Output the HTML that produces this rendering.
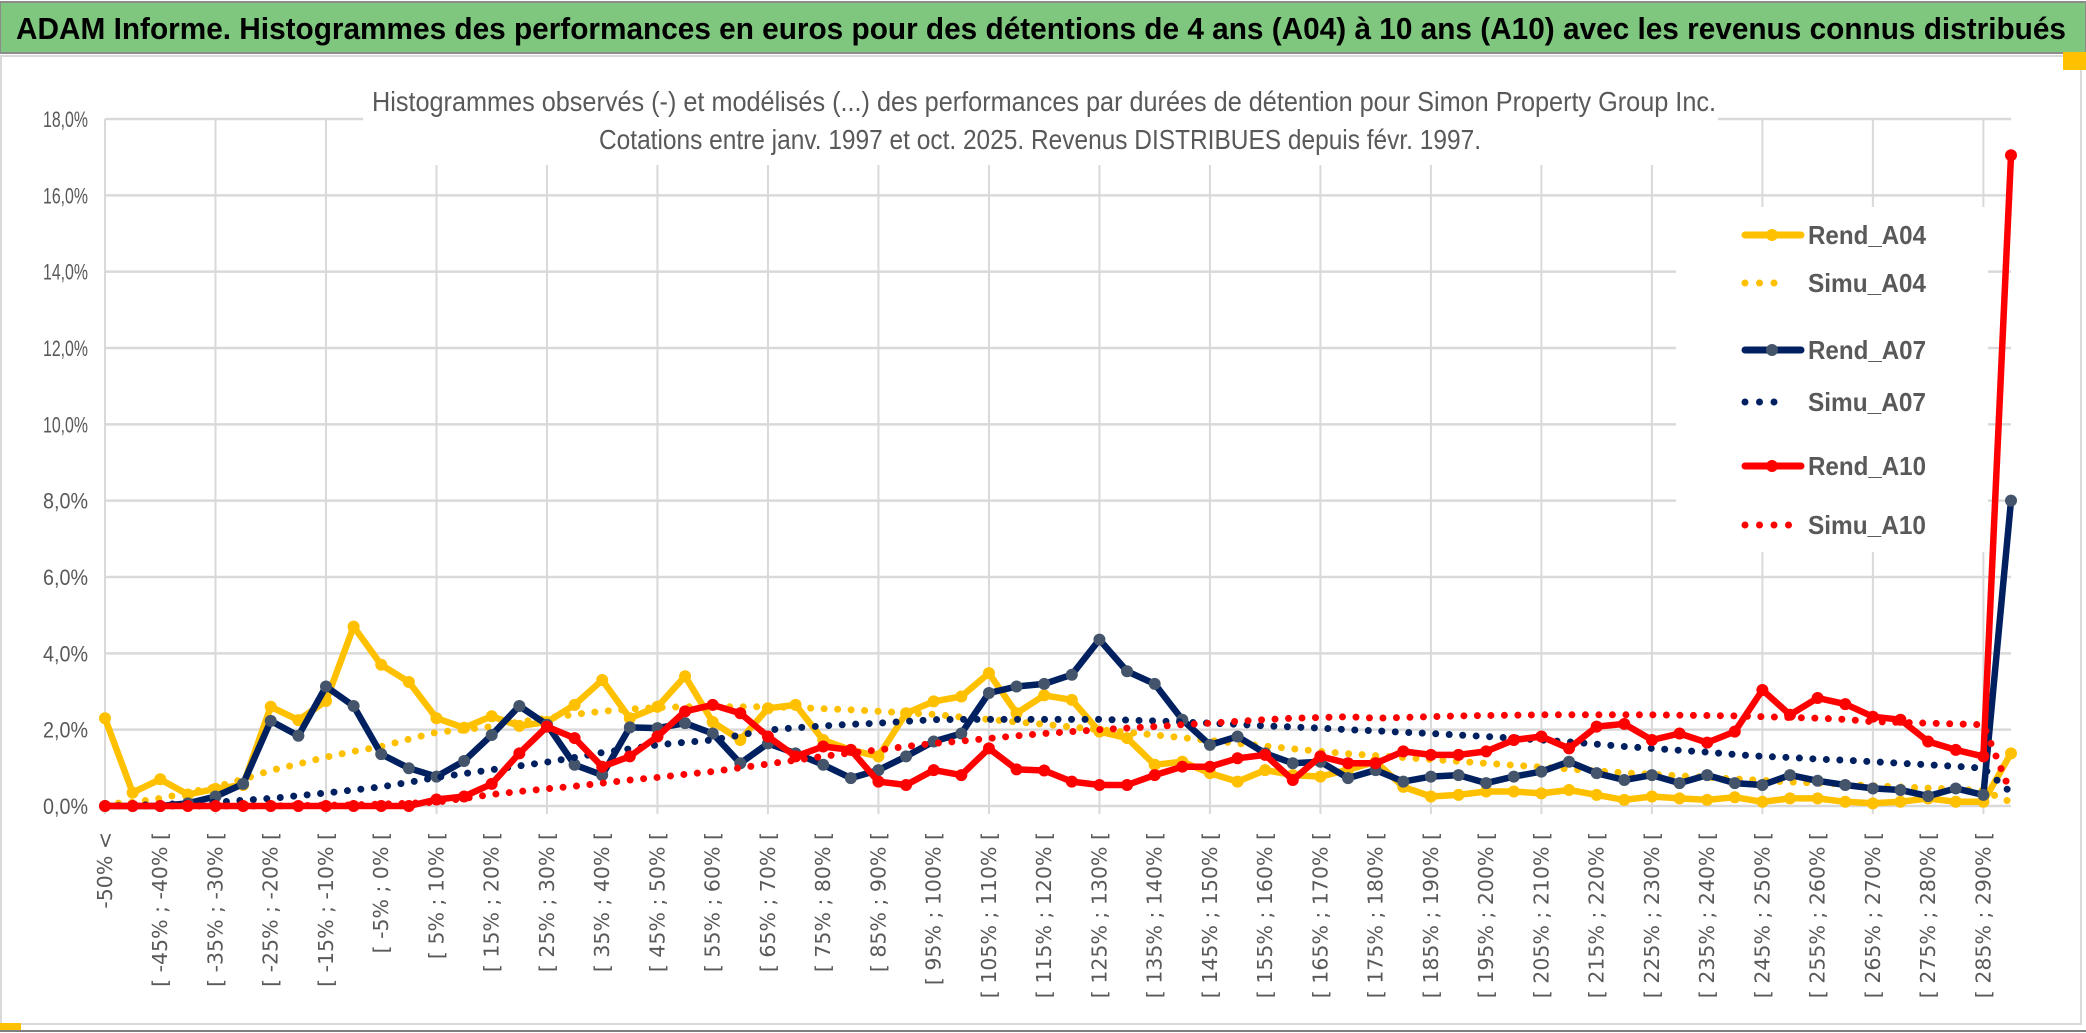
<!DOCTYPE html>
<html><head><meta charset="utf-8"><style>
html,body{margin:0;padding:0;background:#fff;}
svg{display:block;}
text{font-family:"Liberation Sans",sans-serif;}
</style></head><body>
<svg id="chart" width="2086" height="1033" viewBox="0 0 2086 1033" xmlns="http://www.w3.org/2000/svg">
  <rect x="0" y="0" width="2086" height="1033" fill="#fff"/>
  <rect x="0" y="2" width="2086" height="51" fill="#7fc77f" stroke="#8c8c8c" stroke-width="2"/>
  <text x="16" y="39" font-size="31" font-weight="bold" fill="#000" textLength="2050" lengthAdjust="spacingAndGlyphs">ADAM Informe. Histogrammes des performances en euros pour des détentions de 4 ans (A04) à 10 ans (A10) avec les revenus connus distribués</text>
  <rect x="1" y="56" width="2080" height="968" fill="none" stroke="#d9d9d9" stroke-width="2"/>
  <rect x="2063" y="52" width="23" height="18" fill="#ffc000"/>
  <rect x="0" y="1023" width="21" height="8" fill="#ffc000"/>
  <line x1="0" y1="1031" x2="2086" y2="1031" stroke="#7f7f7f" stroke-width="2"/>
  <g id="grid"></g>
  <g id="ylabels"></g>
  <g id="xlabels"></g>
  <rect x="363" y="70" width="1355" height="95" fill="#fff"/>
  <text x="1044" y="111" font-size="28" fill="#595959" text-anchor="middle" textLength="1344" lengthAdjust="spacingAndGlyphs">Histogrammes observés (-) et modélisés (...) des performances par durées de détention pour Simon Property Group Inc.</text>
  <text x="1040" y="149" font-size="28" fill="#595959" text-anchor="middle" textLength="882" lengthAdjust="spacingAndGlyphs">Cotations entre janv. 1997 et oct. 2025. Revenus DISTRIBUES depuis févr. 1997.</text>
  <g id="series"></g>
  <g id="legend"></g>
</svg>
<script>
const categoriesCount = 70;
const yTicks = [0,2,4,6,8,10,12,14,16,18];
const yTickLabels = ["0,0%","2,0%","4,0%","6,0%","8,0%","10,0%","12,0%","14,0%","16,0%","18,0%"];
const rendA04 = [2.3,0.35,0.7,0.3,0.45,0.55,2.6,2.25,2.75,4.7,3.7,3.25,2.3,2.05,2.35,2.1,2.2,2.65,3.3,2.3,2.6,3.4,2.2,1.73,2.56,2.65,1.73,1.47,1.3,2.43,2.74,2.87,3.48,2.43,2.9,2.78,1.95,1.78,1.08,1.16,0.86,0.64,0.94,0.81,0.77,0.95,1.16,0.5,0.25,0.29,0.38,0.38,0.33,0.42,0.29,0.16,0.25,0.2,0.16,0.23,0.11,0.2,0.2,0.11,0.07,0.11,0.2,0.11,0.11,1.38];
const simuA04 = [0.05,0.1,0.2,0.35,0.5,0.7,0.93,1.1,1.28,1.43,1.56,1.75,1.93,2.0,2.08,2.2,2.3,2.4,2.48,2.54,2.58,2.6,2.6,2.6,2.6,2.58,2.55,2.52,2.48,2.44,2.4,2.33,2.27,2.2,2.14,2.07,2.0,1.93,1.86,1.79,1.72,1.64,1.57,1.5,1.43,1.37,1.32,1.27,1.22,1.17,1.12,1.07,1.02,0.97,0.92,0.87,0.83,0.79,0.75,0.71,0.67,0.63,0.6,0.57,0.53,0.5,0.47,0.44,0.4,0.1];
const rendA07 = [0,0,0,0.07,0.25,0.58,2.23,1.84,3.13,2.62,1.36,0.99,0.77,1.18,1.86,2.62,2.13,1.08,0.81,2.06,2.04,2.17,1.9,1.12,1.64,1.38,1.08,0.73,0.94,1.3,1.69,1.9,2.96,3.13,3.2,3.44,4.36,3.53,3.2,2.26,1.6,1.82,1.38,1.12,1.16,0.73,0.94,0.64,0.77,0.81,0.6,0.77,0.9,1.16,0.86,0.68,0.81,0.6,0.81,0.6,0.55,0.81,0.66,0.55,0.46,0.42,0.26,0.46,0.29,8.0];
const simuA07 = [0,0.02,0.04,0.07,0.1,0.15,0.2,0.27,0.34,0.42,0.5,0.62,0.75,0.85,0.95,1.05,1.15,1.27,1.4,1.5,1.6,1.67,1.73,1.86,1.99,2.05,2.1,2.14,2.17,2.22,2.26,2.27,2.27,2.27,2.27,2.27,2.27,2.25,2.23,2.2,2.17,2.14,2.1,2.07,2.04,2.0,1.97,1.93,1.9,1.86,1.82,1.78,1.73,1.68,1.62,1.56,1.51,1.46,1.41,1.35,1.3,1.27,1.23,1.2,1.16,1.12,1.08,1.04,0.99,0.35];
const rendA10 = [0,0,0,0,0,0,0,0,0,0,0,0,0.17,0.25,0.58,1.38,2.08,1.78,1.03,1.3,1.82,2.48,2.65,2.43,1.82,1.3,1.56,1.47,0.64,0.55,0.94,0.81,1.51,0.96,0.93,0.64,0.55,0.55,0.81,1.03,1.03,1.25,1.34,0.68,1.3,1.12,1.12,1.43,1.34,1.34,1.43,1.73,1.82,1.51,2.08,2.15,1.73,1.9,1.66,1.95,3.04,2.39,2.83,2.67,2.34,2.26,1.69,1.47,1.3,17.05];
const simuA10 = [0,0,0,0,0,0,0,0.01,0.02,0.03,0.05,0.07,0.1,0.2,0.3,0.38,0.45,0.52,0.6,0.68,0.75,0.83,0.9,1.0,1.1,1.2,1.3,1.39,1.47,1.56,1.64,1.7,1.77,1.84,1.9,1.95,2.0,2.04,2.08,2.13,2.17,2.22,2.26,2.3,2.32,2.34,2.3,2.32,2.34,2.36,2.37,2.38,2.39,2.39,2.39,2.39,2.39,2.38,2.37,2.36,2.34,2.32,2.3,2.27,2.21,2.19,2.17,2.15,2.13,0.33];

const X0 = 105, X1 = 2011, Y0 = 806, YTOP = 119, YMAX = 18;
const xs = k => X0 + (X1 - X0) * k / (categoriesCount - 1);
const ys = v => Y0 - (Y0 - YTOP) * v / YMAX;
const NS = "http://www.w3.org/2000/svg";
function mk(tag, attrs, parent){const e=document.createElementNS(NS,tag);for(const a in attrs)e.setAttribute(a,attrs[a]);parent.appendChild(e);return e;}
function catLabel(k){ if(k===0) return "-50% <"; const a=-50+5*(k-1); return "[ "+a+"% ; "+(a+5)+"% ["; }

const grid = document.getElementById('grid');
yTicks.forEach((t,i)=>{
  const l = mk('line',{x1:X0,x2:X1,y1:ys(t),y2:ys(t),stroke:'#d9d9d9','stroke-width':2.5},grid);
  
  
  const tx = mk('text',{x:88,y:ys(t)+8,'font-size':22,fill:'#595959','text-anchor':'end',textLength:yTickLabels[i].length>5?54:45,lengthAdjust:'spacingAndGlyphs'},document.getElementById('ylabels'));
  tx.textContent = yTickLabels[i];
  
  
});
for(let k=0;k<categoriesCount;k+=4){
  const l = mk('line',{x1:xs(k),x2:xs(k),y1:YTOP,y2:814,stroke:'#d9d9d9','stroke-width':2},grid);
  
  
}
const xl = document.getElementById('xlabels');
for(let k=0;k<categoriesCount;k+=2){
  const x = xs(k), y = 832;
  const t = mk('text',{x:x,y:y,'font-size':20.5,fill:'#595959','text-anchor':'end','dominant-baseline':'central',transform:`rotate(-90 ${x} ${y})`,style:'font-family:"DejaVu Sans",sans-serif'},xl);
  t.textContent = catLabel(k);
  
  
}

const seriesG = document.getElementById('series');
const seriesList = [
  {name:'rend-a04',data:rendA04,color:'#ffc000',marker:'#ffc000',dotted:false},
  {name:'simu-a04',data:simuA04,color:'#ffc000',dotted:true},
  {name:'rend-a07',data:rendA07,color:'#002060',marker:'#44546a',dotted:false},
  {name:'simu-a07',data:simuA07,color:'#002060',dotted:true},
  {name:'rend-a10',data:rendA10,color:'#ff0000',marker:'#ff0000',dotted:false},
  {name:'simu-a10',data:simuA10,color:'#ff0000',dotted:true}
];
seriesList.forEach(s=>{
  const g = mk('g',{},seriesG);
  
  
  const pts = s.data.map((v,k)=>xs(k).toFixed(1)+','+ys(v).toFixed(1)).join(' ');
  const pl = mk('polyline',{points:pts,fill:'none',stroke:s.color,'stroke-width':s.dotted?7:6.5,'stroke-linejoin':'round','stroke-linecap':'round'},g);
  if(s.dotted){pl.setAttribute('stroke-dasharray','0 13.5');}
  
  
  if(!s.dotted){
    s.data.forEach((v,k)=>{
      const c = mk('circle',{cx:xs(k),cy:ys(v),r:6,fill:s.marker},g);
      
      
    });
  }
});

const lg = document.getElementById('legend');
mk('rect',{x:1676,y:207,width:312,height:345,fill:'#fff'},lg);
const legendY = [235,283,350,402,466,525];
const legendNames = ['Rend_A04','Simu_A04','Rend_A07','Simu_A07','Rend_A10','Simu_A10'];
seriesList.forEach((s,i)=>{
  const y = legendY[i];
  const g = mk('g',{},lg);
  
  
  if(s.dotted){
    const n = s.color==='#ff0000'?5:4;
    const l = mk('line',{x1:1745,x2:1745+14.5*(n-1),y1:y,y2:y,stroke:s.color,'stroke-width':7,'stroke-linecap':'round','stroke-dasharray':'0 14.5'},g);
    
    
  } else {
    const l = mk('line',{x1:1745,x2:1801,y1:y,y2:y,stroke:s.color,'stroke-width':7,'stroke-linecap':'round'},g);
    
    
    mk('circle',{cx:1772,cy:y,r:6,fill:s.marker},g);
  }
  const t = mk('text',{x:1808,y:y+9,'font-size':26,'font-weight':'bold',fill:'#595959',textLength:118,lengthAdjust:'spacingAndGlyphs'},g);
  t.textContent = legendNames[i];
  
  
});
</script>
</body></html>
